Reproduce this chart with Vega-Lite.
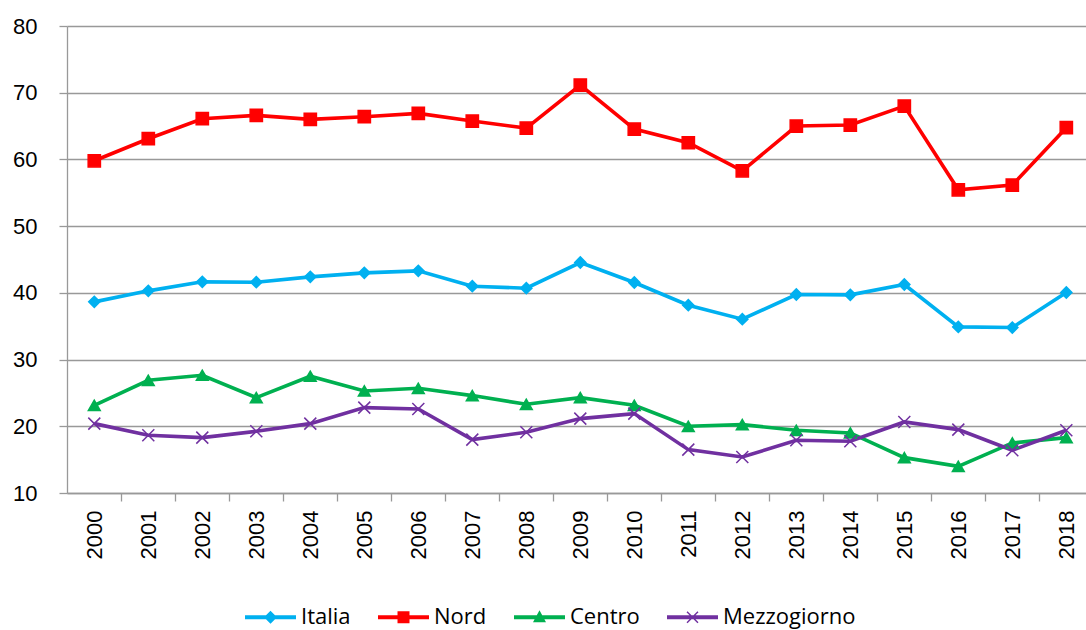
{
  "$schema": "https://vega.github.io/schema/vega-lite/v6.json",
  "width": 1019,
  "height": 467,
  "autosize": {"type": "none"},
  "padding": {"left": 67, "top": 26, "right": 0, "bottom": 137},
  "background": "white",
  "config": {"view": {"stroke": null}},
  "data": {"values": [
    {"anno":"2000","serie":"Italia","valore":38.65},{"anno":"2001","serie":"Italia","valore":40.3},{"anno":"2002","serie":"Italia","valore":41.65},{"anno":"2003","serie":"Italia","valore":41.6},{"anno":"2004","serie":"Italia","valore":42.4},{"anno":"2005","serie":"Italia","valore":43.0},{"anno":"2006","serie":"Italia","valore":43.3},{"anno":"2007","serie":"Italia","valore":41.0},{"anno":"2008","serie":"Italia","valore":40.7},{"anno":"2009","serie":"Italia","valore":44.55},{"anno":"2010","serie":"Italia","valore":41.55},{"anno":"2011","serie":"Italia","valore":38.15},{"anno":"2012","serie":"Italia","valore":36.05},{"anno":"2013","serie":"Italia","valore":39.75},{"anno":"2014","serie":"Italia","valore":39.7},{"anno":"2015","serie":"Italia","valore":41.25},{"anno":"2016","serie":"Italia","valore":34.9},{"anno":"2017","serie":"Italia","valore":34.8},{"anno":"2018","serie":"Italia","valore":40.05},
    {"anno":"2000","serie":"Nord","valore":59.8},{"anno":"2001","serie":"Nord","valore":63.1},{"anno":"2002","serie":"Nord","valore":66.1},{"anno":"2003","serie":"Nord","valore":66.6},{"anno":"2004","serie":"Nord","valore":66.0},{"anno":"2005","serie":"Nord","valore":66.4},{"anno":"2006","serie":"Nord","valore":66.9},{"anno":"2007","serie":"Nord","valore":65.75},{"anno":"2008","serie":"Nord","valore":64.7},{"anno":"2009","serie":"Nord","valore":71.15},{"anno":"2010","serie":"Nord","valore":64.55},{"anno":"2011","serie":"Nord","valore":62.5},{"anno":"2012","serie":"Nord","valore":58.3},{"anno":"2013","serie":"Nord","valore":65.0},{"anno":"2014","serie":"Nord","valore":65.15},{"anno":"2015","serie":"Nord","valore":68.0},{"anno":"2016","serie":"Nord","valore":55.45},{"anno":"2017","serie":"Nord","valore":56.15},{"anno":"2018","serie":"Nord","valore":64.75},
    {"anno":"2000","serie":"Centro","valore":23.15},{"anno":"2001","serie":"Centro","valore":26.9},{"anno":"2002","serie":"Centro","valore":27.65},{"anno":"2003","serie":"Centro","valore":24.3},{"anno":"2004","serie":"Centro","valore":27.5},{"anno":"2005","serie":"Centro","valore":25.3},{"anno":"2006","serie":"Centro","valore":25.7},{"anno":"2007","serie":"Centro","valore":24.6},{"anno":"2008","serie":"Centro","valore":23.3},{"anno":"2009","serie":"Centro","valore":24.3},{"anno":"2010","serie":"Centro","valore":23.15},{"anno":"2011","serie":"Centro","valore":20.0},{"anno":"2012","serie":"Centro","valore":20.25},{"anno":"2013","serie":"Centro","valore":19.4},{"anno":"2014","serie":"Centro","valore":19.0},{"anno":"2015","serie":"Centro","valore":15.3},{"anno":"2016","serie":"Centro","valore":14.0},{"anno":"2017","serie":"Centro","valore":17.5},{"anno":"2018","serie":"Centro","valore":18.3},
    {"anno":"2000","serie":"Mezzogiorno","valore":20.4},{"anno":"2001","serie":"Mezzogiorno","valore":18.65},{"anno":"2002","serie":"Mezzogiorno","valore":18.3},{"anno":"2003","serie":"Mezzogiorno","valore":19.25},{"anno":"2004","serie":"Mezzogiorno","valore":20.4},{"anno":"2005","serie":"Mezzogiorno","valore":22.8},{"anno":"2006","serie":"Mezzogiorno","valore":22.6},{"anno":"2007","serie":"Mezzogiorno","valore":18.0},{"anno":"2008","serie":"Mezzogiorno","valore":19.1},{"anno":"2009","serie":"Mezzogiorno","valore":21.15},{"anno":"2010","serie":"Mezzogiorno","valore":21.9},{"anno":"2011","serie":"Mezzogiorno","valore":16.5},{"anno":"2012","serie":"Mezzogiorno","valore":15.4},{"anno":"2013","serie":"Mezzogiorno","valore":17.9},{"anno":"2014","serie":"Mezzogiorno","valore":17.75},{"anno":"2015","serie":"Mezzogiorno","valore":20.65},{"anno":"2016","serie":"Mezzogiorno","valore":19.5},{"anno":"2017","serie":"Mezzogiorno","valore":16.4},{"anno":"2018","serie":"Mezzogiorno","valore":19.4}
  ]},
  "encoding": {
    "x": {
      "field": "anno", "type": "ordinal",
      "scale": {"type": "point", "padding": 0.435, "align": 0.581},
      "axis": {
        "title": null, "labelAngle": -90, "labelAlign": "right", "labelBaseline": "middle",
        "labelFont": "Liberation Sans", "labelFontSize": 22, "labelColor": "#000000",
        "tickSize": 8, "tickColor": "#999999", "tickWidth": 1.3, "tickOffset": 27, "labelOffset": -27,
        "labelPadding": 9, "domainColor": "#999999", "domainWidth": 1.3, "grid": false
      }
    },
    "y": {
      "field": "valore", "type": "quantitative",
      "scale": {"domain": [10, 80], "nice": false, "zero": false},
      "axis": {
        "title": null, "values": [10, 20, 30, 40, 50, 60, 70, 80],
        "labelFont": "Liberation Sans", "labelFontSize": 22, "labelColor": "#000000",
        "tickSize": 8, "tickColor": "#999999", "tickWidth": 1.3, "labelPadding": 22,
        "domainColor": "#999999", "domainWidth": 1.3,
        "grid": true, "gridColor": "#999999", "gridWidth": 1.3
      }
    }
  },
  "layer": [
    {
      "mark": {"type": "line", "strokeWidth": 3.6},
      "encoding": {
        "color": {
          "field": "serie", "type": "nominal",
          "scale": {"domain": ["Italia", "Nord", "Centro", "Mezzogiorno"], "range": ["#00B0F0", "#FF0000", "#00B050", "#7030A0"]},
          "legend": {
            "title": null, "orient": "none", "direction": "horizontal",
            "legendX": 178, "legendY": 565.5, "padding": 0,
            "labelFont": "Open Sans", "labelFontSize": 22, "labelColor": "#000000",
            "labelOffset": 5, "columnPadding": 27, "symbolSize": 2601,
            "encode": {
              "symbols": {
                "update": {
                  "shape": {"signal": "datum.value === 'Italia' ? 'M-1,-0.08H1V0.08H-1Z M0,-0.255L0.255,0L0,0.255L-0.255,0Z' : datum.value === 'Nord' ? 'M-1,-0.08H1V0.08H-1Z M-0.235,-0.235H0.235V0.235H-0.235Z' : datum.value === 'Centro' ? 'M-1,-0.08H1V0.08H-1Z M0,-0.27L0.255,0.2L-0.255,0.2Z' : 'M-1,-0.08H1V0.08H-1Z M-0.195,-0.235L0.235,0.195L0.195,0.235L-0.235,-0.195Z M0.195,-0.235L0.235,-0.195L-0.195,0.235L-0.235,0.195Z'"},
                  "fill": {"scale": "color", "field": "value"},
                  "stroke": {"value": "transparent"},
                  "strokeWidth": {"value": 0},
                  "size": {"value": 2601},
                  "opacity": {"value": 1}
                }
              }
            }
          }
        }
      }
    },
    {
      "transform": [{"filter": "datum.serie === 'Italia'"}],
      "mark": {"type": "point", "shape": "diamond", "filled": true, "color": "#00B0F0", "stroke": "#00B0F0", "strokeWidth": 1.5, "size": 125, "opacity": 1}
    },
    {
      "transform": [{"filter": "datum.serie === 'Nord'"}],
      "mark": {"type": "point", "shape": "square", "filled": true, "color": "#FF0000", "stroke": "#FF0000", "strokeWidth": 1.5, "size": 150, "opacity": 1}
    },
    {
      "transform": [{"filter": "datum.serie === 'Centro'"}],
      "mark": {"type": "point", "shape": "triangle-up", "filled": true, "color": "#00B050", "stroke": "#00B050", "strokeWidth": 1.5, "size": 140, "opacity": 1}
    },
    {
      "transform": [{"filter": "datum.serie === 'Mezzogiorno'"}],
      "mark": {"type": "point", "shape": "M-1,-1L1,1M1,-1L-1,1", "filled": false, "color": "#7030A0", "stroke": "#7030A0", "strokeWidth": 1.5, "size": 144, "opacity": 1}
    }
  ]
}
